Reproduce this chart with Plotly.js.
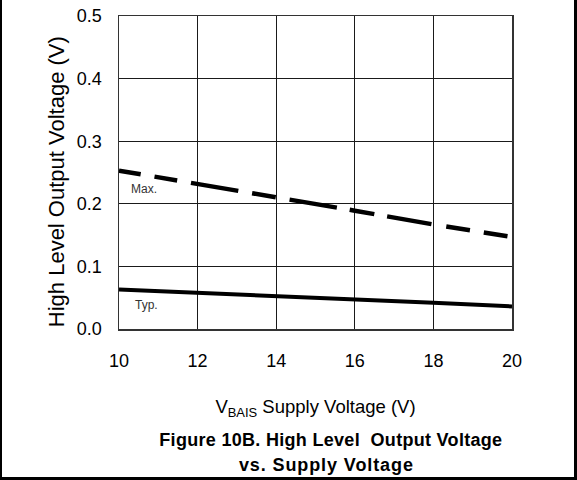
<!DOCTYPE html>
<html>
<head>
<meta charset="utf-8">
<script src="https://cdn.plot.ly/plotly-3.0.1.min.js"></script>
<style>
  html, body { margin: 0; padding: 0; background: #ffffff; }
  #wrap { position: relative; width: 577px; height: 480px; }
  #chart { position: absolute; left: 0; top: 0; width: 577px; height: 480px; }
  #frame { position: absolute; left: 0; top: 0; width: 577px; height: 480px; box-sizing: border-box;
           border-left: 2px solid #000; border-right: 3px solid #000; border-bottom: 3px solid #000;
           pointer-events: none; }
  #chart .annotation[data-index="2"] text { letter-spacing: 0.3px; }
  #chart .annotation[data-index="3"] text { letter-spacing: 0.9px; }
</style>
</head>
<body>
<div id="wrap">
  <div id="chart"></div>
  <div id="frame"></div>
</div>
<script>
// Supply voltage (V)
var supplyVoltage = [10, 12, 14, 16, 18, 20];
// High level output voltage (V)
var vohMax = [0.253, 0.232, 0.211, 0.189, 0.167, 0.147];
var vohTyp = [0.063, 0.058, 0.053, 0.047, 0.042, 0.036];
// Tick values
var xTicks = [10, 12, 14, 16, 18, 20];
var yTicks = [0.0, 0.1, 0.2, 0.3, 0.4, 0.5];

var FONT = 'Liberation Sans, Arial, sans-serif';

var traces = [
  {
    x: supplyVoltage, y: vohMax, type: 'scatter', mode: 'lines', name: 'Max.',
    line: { color: '#000000', width: 4.5,
            dash: '22px,14px,23px,14px,48px,14px,24px,14px,48px,13px,25px,13px,45px,15px,24px,14px,24px' },
    hoverinfo: 'x+y'
  },
  {
    x: supplyVoltage, y: vohTyp, type: 'scatter', mode: 'lines', name: 'Typ.',
    line: { color: '#000000', width: 4 },
    hoverinfo: 'x+y'
  }
];

var layout = {
  width: 577, height: 480,
  margin: { l: 119, r: 65, t: 16, b: 151, pad: 0 },
  paper_bgcolor: '#ffffff', plot_bgcolor: '#ffffff',
  showlegend: false,
  font: { family: FONT, color: '#000000' },
  xaxis: {
    range: [10, 20], tickvals: xTicks, tickformat: 'd',
    showgrid: true, gridcolor: '#1a1a1a', gridwidth: 1,
    showline: true, mirror: true, linecolor: '#333333', linewidth: 1.5,
    zeroline: false, ticks: '', ticklabelstandoff: 15,
    tickfont: { family: FONT, size: 18, color: '#000000' },
    title: { text: 'V<sub>BAIS</sub> Supply Voltage (V)', standoff: 30,
             font: { family: FONT, size: 18.5, color: '#000000' } },
    fixedrange: true
  },
  yaxis: {
    range: [0, 0.5], tickvals: yTicks, tickformat: '.1f',
    showgrid: true, gridcolor: '#1a1a1a', gridwidth: 1,
    showline: true, mirror: true, linecolor: '#333333', linewidth: 1.5,
    zeroline: false, ticks: '', ticklabelstandoff: 12,
    tickfont: { family: FONT, size: 18, color: '#000000' },
    title: { text: 'High Level Output Voltage (V)&nbsp;&nbsp;&nbsp;', standoff: 6,
             font: { family: FONT, size: 22, color: '#000000' } },
    fixedrange: true
  },
  annotations: [
    { x: 10.625, y: 0.223, xref: 'x', yref: 'y', text: 'Max.', showarrow: false,
      font: { family: FONT, size: 12, color: '#333333' } },
    { x: 10.71, y: 0.039, xref: 'x', yref: 'y', text: 'Typ.', showarrow: false,
      font: { family: FONT, size: 12, color: '#333333' } },
    { x: 0.5395, y: -0.356, xref: 'paper', yref: 'paper', text: 'Figure 10B. High Level&nbsp; Output Voltage',
      showarrow: false, xanchor: 'center', yanchor: 'middle',
      font: { family: FONT, size: 18, color: '#000000', weight: 'bold' } },
    { x: 0.528, y: -0.436, xref: 'paper', yref: 'paper', text: 'vs. Supply Voltage',
      showarrow: false, xanchor: 'center', yanchor: 'middle',
      font: { family: FONT, size: 18, color: '#000000', weight: 'bold' } }
  ]
};

Plotly.newPlot('chart', traces, layout, { displayModeBar: false, staticPlot: true });
</script>
</body>
</html>
